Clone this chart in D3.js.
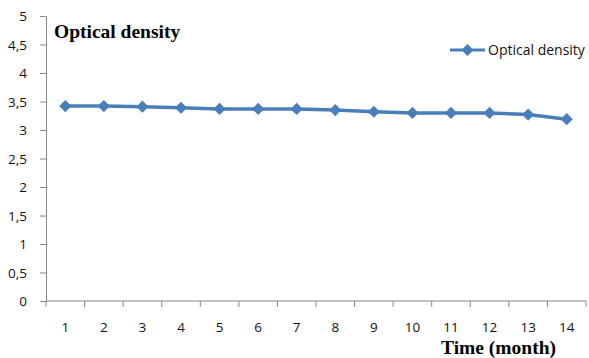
<!DOCTYPE html>
<html lang="en">
<head>
  <meta charset="UTF-8" />
  <title>Optical density</title>
  <script src="https://d3js.org/d3.v7.min.js"></script>
  <style>
    body { margin: 0; background: #fff; }
    svg { display: block; }
    .tick-label { font-family: "Open Sans", sans-serif; font-size: 13.5px; fill: #111; }
    .title { font-family: "Liberation Serif", serif; font-weight: bold; font-size: 19.5px; fill: #000; }
    .legend-text { font-family: "Open Sans", sans-serif; font-size: 14px; fill: #111; }
  </style>
</head>
<body>
  <svg id="chart"></svg>
  <script>
    const months = [1, 2, 3, 4, 5, 6, 7, 8, 9, 10, 11, 12, 13, 14];
    const density = [3.42, 3.42, 3.41, 3.39, 3.37, 3.37, 3.37, 3.35, 3.32, 3.30, 3.30, 3.30, 3.27, 3.19];
    const yTicks = [0, 0.5, 1, 1.5, 2, 2.5, 3, 3.5, 4, 4.5, 5];

    const W = 589, H = 358;
    const margin = { top: 16, right: 3, bottom: 57, left: 46 };
    const width  = W - margin.left - margin.right;
    const height = H - margin.top - margin.bottom;
    const axisColor = "#868686";
    const lineColor = "#4a7ebb";

    const svg = d3.select("#chart").attr("width", W).attr("height", H);
    const g = svg.append("g").attr("transform", `translate(${margin.left},${margin.top})`);

    const x = d3.scaleBand().domain(months).range([0, width]);
    const y = d3.scaleLinear().domain([0, 5]).range([height, 0]);

    // y axis
    const yAxis = g.append("g")
      .call(d3.axisLeft(y).tickValues(yTicks).tickSize(6).tickSizeOuter(0)
        .tickFormat(d => String(d).replace(".", ",")));
    yAxis.selectAll("line").attr("stroke", axisColor);
    yAxis.select(".domain").attr("stroke", axisColor);
    yAxis.selectAll("text").attr("class", "tick-label").attr("x", -19).attr("dy", "0.35em");

    // x axis: ticks at band boundaries, labels centred in bands
    const xAxis = g.append("g").attr("transform", `translate(0,${height})`);
    xAxis.append("line")
      .attr("x1", 0).attr("x2", width)
      .attr("stroke", axisColor);
    const bounds = months.map(m => x(m)).concat([x(months[months.length - 1]) + x.bandwidth()]);
    xAxis.selectAll(".xtick").data(bounds).enter().append("line")
      .attr("x1", d => d).attr("x2", d => d)
      .attr("y1", 0).attr("y2", 6)
      .attr("stroke", axisColor);
    xAxis.selectAll(".xlabel").data(months).enter().append("text")
      .attr("class", "tick-label")
      .attr("x", d => x(d) + x.bandwidth() / 2)
      .attr("y", 31)
      .attr("text-anchor", "middle")
      .text(d => d);

    // line + markers
    const pts = months.map((m, i) => ({ m, v: density[i] }));
    const line = d3.line().x(d => x(d.m) + x.bandwidth() / 2).y(d => y(d.v));
    g.append("path").datum(pts)
      .attr("fill", "none")
      .attr("stroke", lineColor)
      .attr("stroke-width", 3.5)
      .attr("stroke-linejoin", "round")
      .attr("d", line);

    const diamond = d3.symbol().type(d3.symbolDiamond2).size(95);
    g.selectAll(".pt").data(pts).enter().append("path")
      .attr("transform", d => `translate(${x(d.m) + x.bandwidth() / 2},${y(d.v)})`)
      .attr("d", diamond)
      .attr("fill", lineColor);

    // titles
    svg.append("text").attr("class", "title").attr("x", 54).attr("y", 38).text("Optical density");
    svg.append("text").attr("class", "title").attr("x", 441).attr("y", 354).text("Time (month)");

    // legend
    const lg = svg.append("g").attr("transform", "translate(450,50)");
    lg.append("line").attr("x1", 0).attr("x2", 35).attr("stroke", lineColor).attr("stroke-width", 3);
    lg.append("path").attr("transform", "translate(17.5,0)").attr("d", diamond).attr("fill", lineColor);
    lg.append("text").attr("class", "legend-text").attr("x", 38).attr("y", 5).text("Optical density");
  </script>
</body>
</html>
